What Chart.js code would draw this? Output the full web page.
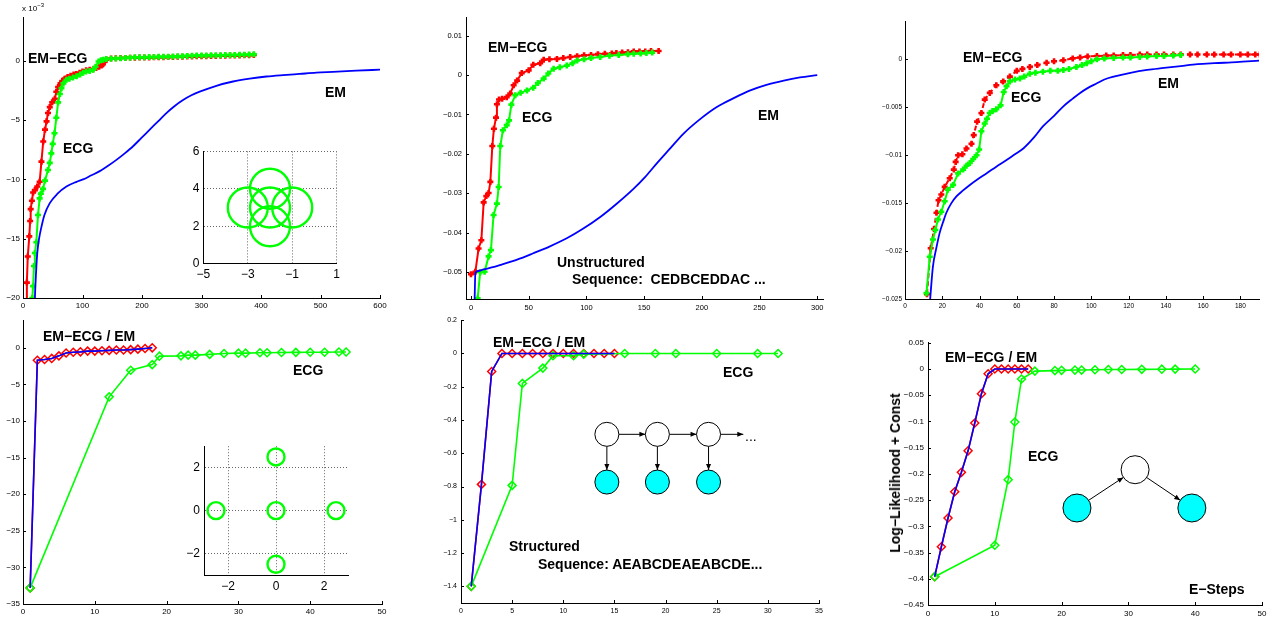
<!DOCTYPE html>
<html>
<head>
<meta charset="utf-8">
<script src="https://cdn.jsdelivr.net/npm/chart.js@4.4.1/dist/chart.umd.min.js"></script>
<style>
body{margin:0;background:#fff;width:1275px;height:618px;overflow:hidden;position:relative;font-family:"Liberation Sans",Arial,sans-serif}
canvas{position:absolute}
.lbl{position:absolute;font:bold 14px "Liberation Sans",Arial,sans-serif;color:#000;white-space:pre;line-height:16px;z-index:5}
</style>
</head>
<body>

<div class="lbl" style="left:22px;top:2px;font:normal 8px 'Liberation Sans',Arial,sans-serif">x 10<sup style="font-size:6px">&minus;3</sup></div>
<div class="lbl" style="left:28px;top:50px">EM&minus;ECG</div>
<div class="lbl" style="left:63px;top:140px">ECG</div>
<div class="lbl" style="left:325px;top:84px">EM</div>

<div class="lbl" style="left:488px;top:39px">EM&minus;ECG</div>
<div class="lbl" style="left:522px;top:109px">ECG</div>
<div class="lbl" style="left:758px;top:107px">EM</div>
<div class="lbl" style="left:557px;top:254px">Unstructured</div>
<div class="lbl" style="left:572px;top:271px">Sequence:  CEDBCEDDAC ...</div>

<div class="lbl" style="left:963px;top:49px">EM&minus;ECG</div>
<div class="lbl" style="left:1011px;top:89px">ECG</div>
<div class="lbl" style="left:1158px;top:75px">EM</div>

<div class="lbl" style="left:43px;top:328px">EM&minus;ECG / EM</div>
<div class="lbl" style="left:293px;top:362px">ECG</div>

<div class="lbl" style="left:493px;top:334px">EM&minus;ECG / EM</div>
<div class="lbl" style="left:723px;top:364px">ECG</div>
<div class="lbl" style="left:509px;top:538px">Structured</div>
<div class="lbl" style="left:538px;top:556px">Sequence: AEABCDEAEABCDE...</div>
<div class="lbl" style="left:745px;top:428px;font-weight:normal">...</div>

<div class="lbl" style="left:945px;top:349px">EM&minus;ECG / EM</div>
<div class="lbl" style="left:1028px;top:448px">ECG</div>
<div class="lbl" style="left:1189px;top:581px">E&minus;Steps</div>
<div class="lbl" style="left:895px;top:473px;transform:translate(-50%,-50%) rotate(-90deg)">Log&minus;Likelihood + Const</div>

<script>
// ---- panel 1 (values in units of 1e-3) ----
const p1EmX = [19,20,22,24,27,31,36,45,58,73,90,101,115,129,143,157,171,185,199,213,227,241,255,269,283,297,325,353,381,409,437,465,493,521,560,600];
const p1EmY = [-22,-20,-17.8,-16.2,-15,-14,-13,-12,-11.2,-10.6,-10.2,-10,-9.65,-9.3,-8.85,-8.35,-7.8,-7.2,-6.5,-5.8,-5.1,-4.4,-3.8,-3.3,-2.9,-2.6,-2.1,-1.74,-1.5,-1.32,-1.2,-1.1,-1.0,-0.93,-0.83,-0.74];
const p1EcgX = [15,15.6,17,18.5,20,22.4,25.2,28,30,33.6,37,42,45,47.6,50,53,56,59,62,64.6,68,73,78,84,90,96,101,106,112,118,122,127,131,135,140];
const p1EcgY = [-22,-20,-19,-17.3,-16.2,-15.3,-13,-11.6,-11.2,-10.8,-10.1,-9.2,-8.6,-7.8,-7,-6.1,-4.8,-3.5,-2.8,-2.3,-1.9,-1.6,-1.5,-1.4,-1.3,-1.15,-1.0,-0.9,-0.85,-0.75,-0.5,-0.05,0.05,0.1,0.15];
const p1HybX = [6,6.5,8,10.6,12,12.9,15,17,20,24,28,31,34,37,39.6,42,45,49,53.5,56,59,63,66,70,75,80,85,89.6,95,100,106,112,118,123,128,132,134,137,140];
const p1HybY = [-22,-18.7,-16.5,-14.8,-13.5,-12.5,-11.8,-11.1,-10.9,-10.6,-10.2,-8.5,-6.8,-5.8,-5.1,-4.4,-3.9,-3.5,-3.2,-2.6,-2.2,-1.9,-1.7,-1.5,-1.35,-1.25,-1.15,-1.1,-1.0,-0.9,-0.8,-0.75,-0.7,-0.6,-0.5,-0.4,-0.3,-0.1,0.1];
const p1FlatX = [148,156,164,172,180,188,196,204,212,220,228,236,244,252,260,268,276,284,292,300,308,316,324,332,340,348,356,364,372,380,388];
const p1EcgFlatY = [0.18,0.2,0.22,0.25,0.27,0.3,0.3,0.31,0.32,0.33,0.34,0.35,0.35,0.36,0.38,0.4,0.42,0.43,0.45,0.45,0.46,0.47,0.48,0.48,0.49,0.5,0.5,0.51,0.52,0.53,0.55];
const p1HybFlatY = [0.2,0.22,0.24,0.25,0.26,0.27,0.28,0.28,0.29,0.3,0.3,0.31,0.32,0.33,0.34,0.35,0.36,0.37,0.38,0.39,0.4,0.41,0.42,0.43,0.44,0.45,0.45,0.46,0.47,0.48,0.5];
const p1XTicks = [0,100,200,300,400,500,600];
const p1YTicks = [-20,-15,-10,-5,0];

// ---- panel 2 ----
const p2EmX = [2.9,3.2,3.8,6,11,18,25,40,54,68,83,97,112,126,141,151,161,172,184,198,213,228,242,256,271,285,300];
const p2EmY = [-0.06,-0.0566,-0.0503,-0.0497,-0.0493,-0.0488,-0.0482,-0.0468,-0.0452,-0.0435,-0.0414,-0.039,-0.036,-0.0327,-0.0288,-0.0258,-0.0224,-0.0188,-0.0149,-0.0113,-0.0081,-0.0058,-0.0039,-0.0025,-0.0014,-0.0006,0];
const p2EcgX = [5.8,8,11.8,15.3,17.3,19.6,22.5,24,25.4,27.7,31,33,35,38.4,43,48.5,54,58,63,67,71.6,77,83,88,92,98,104,112,120,128,136,141,147,152,157];
const p2EcgY = [-0.0566,-0.05,-0.0499,-0.046,-0.0444,-0.0355,-0.0326,-0.0284,-0.018,-0.014,-0.0127,-0.0115,-0.0075,-0.0051,-0.0045,-0.0039,-0.0032,-0.002,-0.0009,0.0004,0.0016,0.002,0.0024,0.003,0.0037,0.004,0.0043,0.0046,0.0049,0.0051,0.0053,0.0054,0.0055,0.0056,0.0057];
const p2HybX = [0,3.8,6.6,9,11,13.3,15.3,16.8,18.5,19.9,21.7,22.5,24.3,27,31,34,37,40,44,50,54,60,63,68,74.5,80,86,92,98,104,110,116,122,126,131,136,141,146,151,156,162.6];
const p2HybY = [-0.0505,-0.0499,-0.044,-0.0419,-0.0323,-0.0307,-0.0299,-0.0271,-0.018,-0.0136,-0.0108,-0.0074,-0.0062,-0.006,-0.0056,-0.0047,-0.0026,-0.0014,0.0005,0.0012,0.0026,0.003,0.0039,0.004,0.0041,0.0043,0.0046,0.0048,0.005,0.0051,0.0053,0.0054,0.0055,0.0056,0.0057,0.0058,0.006,0.006,0.006,0.0061,0.0061];
const p2XTicks = [0,50,100,150,200,250,300];
const p2YTicks = [-0.05,-0.04,-0.03,-0.02,-0.01,0,0.01];

// ---- panel 3 ----
const p3EmX = [13.3,15,16.8,18.6,20.4,22.2,24.9,27.6,31,34.8,39,43.7,49,54.5,59,63.5,69,74,80,85,90,94,98,103,107,112,121,130,139,148,157,166,178,190];
const p3EmY = [-0.0255,-0.0216,-0.0197,-0.0181,-0.017,-0.016,-0.015,-0.0143,-0.0137,-0.0131,-0.0125,-0.0119,-0.0112,-0.0105,-0.0099,-0.0093,-0.0082,-0.007,-0.0059,-0.0049,-0.0041,-0.0035,-0.003,-0.0025,-0.0021,-0.0018,-0.0014,-0.0011,-0.0009,-0.0007,-0.0005,-0.0004,-0.0003,-0.00014];
const p3EcgX = [11.5,13.3,15,16.3,17.7,19.5,21.3,23,25.8,28.5,31.2,33,34.8,36.6,38.4,39.8,41,42.8,44,45.5,47,49,51.3,53,54.5,56.3,59,61.7,64,67,70,74,78,82,85,88,92,95,97.5,100,103,107,112,117,121,126,130,135,139,144,148];
const p3EcgY = [-0.0244,-0.0206,-0.0188,-0.0178,-0.0167,-0.0159,-0.0148,-0.0136,-0.0131,-0.0119,-0.0115,-0.0111,-0.0108,-0.0104,-0.01,-0.0094,-0.0075,-0.0067,-0.0062,-0.0056,-0.0054,-0.0052,-0.0048,-0.0034,-0.0028,-0.0023,-0.0021,-0.002,-0.0018,-0.0015,-0.0014,-0.0013,-0.0012,-0.0012,-0.0011,-0.001,-0.0008,-0.0006,-0.0004,-0.0002,0,0.0001,0.00015,0.0002,0.0002,0.00025,0.0003,0.00035,0.00035,0.0004,0.00045];
const p3HybX = [11.8,13.8,15.6,16.9,18,19.5,21.3,24,26.2,27.2,28.5,30.8,33,35.7,36.9,38.7,41,42.8,45.5,49,52.7,56.3,60,63,67,71,76,80,85,90,94,98,103,108,112,117,121,126,130,135,139,144,148,153,157,162,166,171,175,180,184,188,190.5];
const p3HybY = [-0.0245,-0.0197,-0.0177,-0.016,-0.0147,-0.0141,-0.0133,-0.0124,-0.0115,-0.0107,-0.01,-0.0099,-0.0093,-0.0088,-0.0079,-0.0065,-0.0056,-0.0042,-0.0035,-0.0027,-0.0023,-0.0018,-0.0012,-0.001,-0.0008,-0.0006,-0.00035,-0.0002,-0.0001,0.0001,0.0002,0.0003,0.00035,0.0004,0.0004,0.00045,0.00045,0.0005,0.0005,0.0005,0.0005,0.0005,0.0005,0.0005,0.0005,0.0005,0.0005,0.0005,0.0005,0.0005,0.0005,0.0005,0.0005];
const p3XTicks = [0,20,40,60,80,100,120,140,160,180];
const p3YTicks = [-0.025,-0.02,-0.015,-0.01,-0.005,0];

// ---- panel 4 ----
const p4EmX = [1,2,3,4,5,6,7,8,9,10,11,12,13,14,15,16,17,18];
const p4EmY = [-32.8,-1.7,-1.6,-1.45,-1.1,-0.7,-0.6,-0.55,-0.45,-0.45,-0.4,-0.35,-0.3,-0.3,-0.25,-0.18,-0.1,0];
const p4EcgX = [1,12,15,18,19,22,23,24,26,28,30,31,33,34,36,38,40,42,44,45];
const p4EcgY = [-32.8,-6.7,-3.06,-2.3,-1.14,-1.1,-1.0,-1.0,-0.9,-0.78,-0.73,-0.73,-0.68,-0.67,-0.64,-0.62,-0.6,-0.6,-0.58,-0.58];
const p4XTicks = [0,10,20,30,40,50];
const p4YTicks = [-35,-30,-25,-20,-15,-10,-5,0];

// ---- panel 5 ----
const p5EmX = [1,2,3,4,5,6,7,8,9,10,11,12,13,14,15];
const p5EmY = [-1.4,-0.787,-0.108,0,0,0,0,0,0,0,0,0,0,0,0];
const p5EcgX = [1,5,6,8,9,11,12,16,19,21,25,29,31];
const p5EcgY = [-1.4,-0.793,-0.18,-0.088,-0.014,-0.014,-0.004,0,0,0,0,0,0];
const p5XTicks = [0,5,10,15,20,25,30,35];
const p5YTicks = [-1.4,-1.2,-1,-0.8,-0.6,-0.4,-0.2,0,0.2];

// ---- panel 6 ----
const p6EmX = [1,2,3,4,5,6,7,8,9,10,11,12,13,14,15];
const p6EmY = [-0.396,-0.339,-0.284,-0.234,-0.197,-0.156,-0.103,-0.047,-0.009,0,0,0,0,0,0];
const p6EcgX = [1,10,12,13,14,16,19,20,22,23,25,27,29,32,35,37,40];
const p6EcgY = [-0.396,-0.336,-0.211,-0.101,-0.019,-0.004,-0.003,-0.0025,-0.002,-0.002,-0.0013,-0.001,-0.0008,-0.0006,-0.0003,-0.0002,0];
const p6XTicks = [0,10,20,30,40,50];
const p6YTicks = [-0.45,-0.4,-0.35,-0.3,-0.25,-0.2,-0.15,-0.1,-0.05,0,0.05];

// ---- insets: mixture centres ----
const in1CX = [-3,-2,-1,-2,-2];
const in1CY = [3,3,3,4,2];
const in1XTicks = [-5,-3,-1,1];
const in1YTicks = [0,2,4,6];
const in2CX = [-2.5,0,2.5,0,0];
const in2CY = [0,0,0,2.5,-2.5];
const in2Ticks = [-2,0,2];

// ---- graphical model sketches (data coordinates of their panel) ----
const chainX = [14.26,19.2,24.2], chainHidY = -0.486, chainObsY = -0.773, chainTailX = 27.6;
const vHid = [31.0,-0.192], vObs = [[22.3,-0.265],[39.5,-0.265]];

const RED = '#ff0000', GREEN = '#00ff00', BLUE = '#0000ff', CYAN = '#00ffff';

function fmt(v){ return String(+Number(v).toFixed(4)).replace('-','\u2212'); }
function pts(xs, ys){ return xs.map((x,i)=>({x:x, y:ys[i]})); }

function lineSet(xs, ys, color, marker, extra){
  return Object.assign({
    data: pts(xs, ys), borderColor: color, borderWidth: 1.6, tension: 0,
    pointStyle: 'rectRot', pointRadius: marker || 0, pointBorderColor: color,
    pointBackgroundColor: 'rgba(0,0,0,0)', pointBorderWidth: 1.5
  }, extra || {});
}
// dense "+"-like markers of the long runs
const plus = {pointStyle: 'cross', pointBorderWidth: 2.6, borderWidth: 2};

const inTicks = {
  id: 'inTicks',
  afterDraw(chart){
    const {ctx, chartArea:a, scales:{x, y}} = chart;
    ctx.save(); ctx.strokeStyle = '#000'; ctx.lineWidth = 1; ctx.beginPath();
    x.ticks.forEach(t=>{ const p = Math.round(x.getPixelForValue(t.value))+0.5; ctx.moveTo(p, a.bottom); ctx.lineTo(p, a.bottom-3); });
    y.ticks.forEach(t=>{ const p = Math.round(y.getPixelForValue(t.value))+0.5; ctx.moveTo(a.left, p); ctx.lineTo(a.left+3, p); });
    ctx.stroke(); ctx.restore();
  }
};

function arrow(ctx, x1, y1, x2, y2, r1, r2){
  const dx = x2-x1, dy = y2-y1, L = Math.hypot(dx, dy), ux = dx/L, uy = dy/L;
  const sx = x1+ux*r1, sy = y1+uy*r1, ex = x2-ux*r2, ey = y2-uy*r2;
  ctx.beginPath(); ctx.moveTo(sx, sy); ctx.lineTo(ex, ey); ctx.stroke();
  const hl = 6, hw = 2.5;
  ctx.fillStyle = '#000';
  ctx.beginPath(); ctx.moveTo(ex, ey);
  ctx.lineTo(ex-ux*hl-uy*hw, ey-uy*hl+ux*hw);
  ctx.lineTo(ex-ux*hl+uy*hw, ey-uy*hl-ux*hw);
  ctx.closePath(); ctx.fill();
}
function node(ctx, x, y, r, fill){
  ctx.beginPath(); ctx.arc(x, y, r, 0, 2*Math.PI); ctx.fillStyle = fill; ctx.fill(); ctx.stroke();
}

const chainPlugin = {
  id: 'chain',
  afterDatasetsDraw(chart){
    const {ctx, scales:{x, y}} = chart, R = 12;
    const hy = y.getPixelForValue(chainHidY), oy = y.getPixelForValue(chainObsY);
    const xs = chainX.map(v=>x.getPixelForValue(v));
    ctx.save(); ctx.strokeStyle = '#000'; ctx.lineWidth = 1;
    xs.forEach((px, i)=>{
      const last = i === xs.length-1;
      arrow(ctx, px, hy, last ? x.getPixelForValue(chainTailX) : xs[i+1], hy, R, last ? 0 : R);
      arrow(ctx, px, hy, px, oy, R, R);
    });
    xs.forEach(px=>{ node(ctx, px, hy, R, '#fff'); node(ctx, px, oy, R, CYAN); });
    ctx.restore();
  }
};

const vPlugin = {
  id: 'vstruct',
  afterDatasetsDraw(chart){
    const {ctx, scales:{x, y}} = chart, R = 14;
    const hx = x.getPixelForValue(vHid[0]), hy = y.getPixelForValue(vHid[1]);
    const o = vObs.map(p=>[x.getPixelForValue(p[0]), y.getPixelForValue(p[1])]);
    ctx.save(); ctx.strokeStyle = '#000'; ctx.lineWidth = 1;
    arrow(ctx, o[0][0], o[0][1], hx, hy, R, R);
    arrow(ctx, hx, hy, o[1][0], o[1][1], R, R);
    node(ctx, hx, hy, R, '#fff');
    o.forEach(p=>node(ctx, p[0], p[1], R, CYAN));
    ctx.restore();
  }
};

// box = [left, top, right, bottom] of the axes in page pixels
function panel(box, xr, yr, xt, yt, datasets, o){
  const yW = o.yW || 45, xH = o.xH || 16, pt = 8, pr = 12;
  const c = document.createElement('canvas');
  c.width = Math.round(box[2]-box[0]) + yW + pr;
  c.height = Math.round(box[3]-box[1]) + pt + xH;
  c.style.left = (box[0]-yW)+'px';
  c.style.top = (box[1]-pt)+'px';
  c.style.zIndex = o.z || 1;
  document.body.appendChild(c);
  const font = {family: 'Liberation Sans', size: o.fs || 8};
  const grid = o.grid
    ? {display: true, drawTicks: false, color: '#666', lineWidth: 1}
    : {display: false, drawTicks: false};
  const border = {display: true, color: '#000', width: 1, dash: o.grid ? [1,2] : []};
  const axis = (r, t, isX) => ({
    type: 'linear', min: r[0], max: r[1],
    afterBuildTicks: s=>{ s.ticks = t.map(v=>({value: v})); },
    afterFit: s=>{ if (isX) s.height = xH; else s.width = yW; },
    ticks: {callback: fmt, font: font, color: '#000', padding: o.pad || 3, maxRotation: 0, autoSkip: false},
    grid: grid, border: border
  });
  new Chart(c, {
    type: o.type || 'line',
    data: {datasets: datasets},
    options: {
      responsive: false, animation: false, events: [],
      layout: {padding: {left: 0, top: pt, right: pr, bottom: 0}},
      plugins: {legend: {display: false}, tooltip: {enabled: false}},
      scales: {x: axis(xr, xt, true), y: axis(yr, yt, false)}
    },
    plugins: o.plugins || []
  });
}

const mono = {cubicInterpolationMode: 'monotone', borderWidth: 1.8};

panel([23.3,17,380,298], [0,600], [-20,3.7], p1XTicks, p1YTicks, [
  lineSet(p1EmX, p1EmY, BLUE, 0, mono),
  lineSet(p1EcgX.concat(p1FlatX), p1EcgY.concat(p1EcgFlatY), GREEN, 3, plus),
  lineSet(p1HybX.concat(p1FlatX), p1HybY.concat(p1HybFlatY), RED, 3, plus)
], {fs: 8, plugins: [inTicks]});

panel([465.7,17,823,299], [-4.3,305], [-0.0568,0.0146], p2XTicks, p2YTicks, [
  lineSet(p2EmX, p2EmY, BLUE, 0, mono),
  lineSet(p2EcgX, p2EcgY, GREEN, 3, plus),
  lineSet(p2HybX, p2HybY, RED, 3, plus)
], {fs: 7.5, pad: 4, plugins: [inTicks]});

panel([905.3,21,1259,299], [0,190], [-0.025,0.004], p3XTicks, p3YTicks, [
  lineSet(p3EmX, p3EmY, BLUE, 0, mono),
  lineSet(p3EcgX, p3EcgY, GREEN, 3, plus),
  lineSet(p3HybX, p3HybY, RED, 3, Object.assign({}, plus, {borderDash: [5,3]}))
], {fs: 6.5, pad: 3, plugins: [inTicks]});

panel([23.3,320,382,604], [0,50], [-35,3.8], p4XTicks, p4YTicks, [
  lineSet(p4EmX, p4EmY, BLUE, 0),
  lineSet(p4EcgX, p4EcgY, GREEN, 4),
  lineSet(p4EmX, p4EmY, RED, 4)
], {fs: 8, plugins: [inTicks]});

panel([460.7,320,818.7,603.3], [0,35], [-1.5,0.2], p5XTicks, p5YTicks, [
  lineSet(p5EmX, p5EmY, BLUE, 0),
  lineSet(p5EcgX, p5EcgY, GREEN, 4),
  lineSet(p5EmX, p5EmY, RED, 4)
], {fs: 7, pad: 4, plugins: [inTicks, chainPlugin]});

panel([928.3,341.7,1262.3,604.3], [0,50], [-0.45,0.05], p6XTicks, p6YTicks, [
  lineSet(p6EmX, p6EmY, BLUE, 0),
  lineSet(p6EcgX, p6EcgY, GREEN, 4),
  lineSet(p6EmX, p6EmY, RED, 4)
], {fs: 8, pad: 4, plugins: [inTicks, vPlugin]});

function circles(xs, ys, r){
  return [{data: pts(xs, ys), pointRadius: r, pointBorderColor: GREEN, pointBorderWidth: 2.4,
           pointBackgroundColor: 'rgba(0,0,0,0)', showLine: false}];
}

panel([203.3,136.7,347.3,267.7], [-5,1], [0,6], in1XTicks, in1YTicks,
  circles(in1CX, in1CY, 20), {type: 'scatter', grid: true, fs: 12, yW: 22, xH: 18, pad: 4, z: 3});

panel([204.3,443.3,348.3,575], [-3,3], [-3,3], in2Ticks, in2Ticks,
  circles(in2CX, in2CY, 8.5), {type: 'scatter', grid: true, fs: 12, yW: 24, xH: 18, pad: 4, z: 3});
</script>
</body>
</html>
